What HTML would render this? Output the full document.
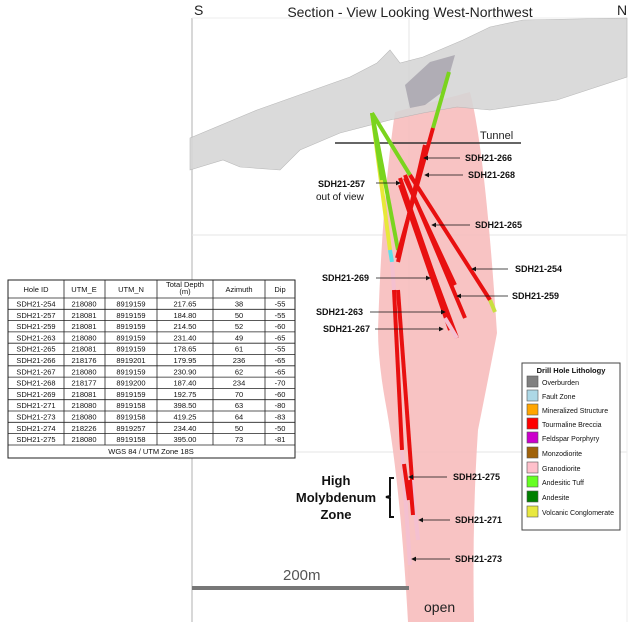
<!DOCTYPE html>
<html><head><meta charset="utf-8"><style>
body{margin:0;background:#fff;width:630px;height:622px;overflow:hidden;font-family:"Liberation Sans",sans-serif}
svg{display:block}
.l{font:bold 9px "Liberation Sans",sans-serif;fill:#111}
.t{font:7.5px "Liberation Sans",sans-serif;fill:#111}
.g{font:7px "Liberation Sans",sans-serif;fill:#111}
</style></head><body>
<svg width="630" height="622" viewBox="0 0 630 622" xmlns="http://www.w3.org/2000/svg">
<defs><marker id="a" markerWidth="6" markerHeight="6" refX="5" refY="3" orient="auto"><path d="M0,0 L6,3 L0,6z" fill="#111"/></marker></defs>
<line x1="192" y1="18" x2="192" y2="622" stroke="#ccc" stroke-width="1.5"/>
<line x1="409" y1="18" x2="409" y2="622" stroke="#e6e6e6"/>
<line x1="192" y1="235" x2="627" y2="235" stroke="#e6e6e6"/>
<line x1="192" y1="452" x2="627" y2="452" stroke="#e6e6e6"/>
<line x1="627" y1="18" x2="627" y2="622" stroke="#eee"/>
<line x1="192" y1="18" x2="627" y2="18" stroke="#eee"/>
<path d="M395,112 L470,92 Q485,150 497,333 Q490,370 478,430 Q472,520 474,622 L408,622 Q400,480 385,400 Q378,360 378,330 Q382,200 395,112z" fill="#f7b8b8" opacity="0.85"/>
<path d="M190,138 L257,110 L350,77 L377,63 L390,50 L400,63 L423,57 L463,40 L490,27 L523,20 L627,18 L627,77 L557,100 L490,110 L457,107 L423,113 L390,120 L340,133 L300,150 L280,170 L240,167 L223,160 L190,170z" fill="#d6d6d6" opacity="0.88" stroke="#b0b0b0" stroke-width="0.6"/>
<path d="M405,85 L430,62 L455,55 L445,90 L425,105 L410,108z" fill="#8e8898" opacity="0.55"/>
<line x1="335" y1="143" x2="521" y2="143" stroke="#333" stroke-width="1.5"/>
<text x="480" y="139" font-size="11" fill="#222">Tunnel</text>
<g stroke-width="4" stroke-linecap="butt">
<line x1="372" y1="113" x2="390" y2="250" stroke="#e8e83a"/>
<line x1="372" y1="113" x2="382" y2="180" stroke="#7ad41e"/>
<line x1="390" y1="250" x2="392" y2="262" stroke="#5ee0e8"/>
<line x1="392" y1="262" x2="394" y2="290" stroke="#f4c0d0"/>
<line x1="394" y1="290" x2="402" y2="450" stroke="#e81010"/>
<line x1="402" y1="450" x2="410" y2="565" stroke="#f4c0d0"/>
<line x1="398" y1="290" x2="412" y2="480" stroke="#e81010"/>
<line x1="412" y1="480" x2="418" y2="540" stroke="#f4c0d0"/>
<line x1="372" y1="113" x2="398" y2="250" stroke="#7ad41e"/>
<line x1="449" y1="72" x2="433" y2="128" stroke="#7ad41e"/>
<line x1="433" y1="128" x2="397" y2="258" stroke="#e81010"/>
<line x1="425" y1="145" x2="398" y2="262" stroke="#e81010"/>
<line x1="372" y1="113" x2="410" y2="175" stroke="#7ad41e"/>
<line x1="410" y1="175" x2="490" y2="300" stroke="#e81010"/>
<line x1="490" y1="300" x2="495" y2="312" stroke="#c8e040"/>
<line x1="405" y1="175" x2="465" y2="318" stroke="#e81010"/>
<line x1="405" y1="178" x2="455" y2="285" stroke="#e81010"/>
<line x1="400" y1="178" x2="445" y2="308" stroke="#e81010"/>
<line x1="400" y1="185" x2="450" y2="330" stroke="#e81010"/>
<line x1="402" y1="190" x2="457" y2="338" stroke="#e81010"/>
<line x1="445" y1="318" x2="457" y2="338" stroke="#f4c0d0"/>
<line x1="404" y1="464" x2="409" y2="500" stroke="#e81010"/>
<line x1="410" y1="480" x2="413" y2="515" stroke="#e81010"/>
</g>
<g stroke="#111" stroke-width="0.8" marker-end="url(#a)">
<line x1="460" y1="158" x2="424" y2="158"/><line x1="463" y1="175" x2="425" y2="175"/>
<line x1="376" y1="183" x2="400" y2="183"/><line x1="470" y1="225" x2="432" y2="225"/>
<line x1="508" y1="269" x2="472" y2="269"/><line x1="376" y1="278" x2="430" y2="278"/>
<line x1="508" y1="296" x2="457" y2="296"/><line x1="370" y1="312" x2="445" y2="312"/>
<line x1="375" y1="329" x2="443" y2="329"/><line x1="447" y1="477" x2="409" y2="477"/>
<line x1="450" y1="520" x2="419" y2="520"/><line x1="450" y1="559" x2="412" y2="559"/>
</g>
<text class="l" x="465" y="161">SDH21-266</text>
<text class="l" x="468" y="178">SDH21-268</text>
<text class="l" x="318" y="187">SDH21-257</text>
<text x="316" y="200" font-size="10" fill="#111">out of view</text>
<text class="l" x="475" y="228">SDH21-265</text>
<text class="l" x="515" y="272">SDH21-254</text>
<text class="l" x="322" y="281">SDH21-269</text>
<text class="l" x="512" y="299">SDH21-259</text>
<text class="l" x="316" y="315">SDH21-263</text>
<text class="l" x="323" y="332">SDH21-267</text>
<text class="l" x="453" y="480">SDH21-275</text>
<text class="l" x="455" y="523">SDH21-271</text>
<text class="l" x="455" y="562">SDH21-273</text>
<g font-weight="bold" font-size="13" text-anchor="middle" fill="#111">
<text x="336" y="485">High</text><text x="336" y="502">Molybdenum</text><text x="336" y="519">Zone</text></g>
<path d="M394,478 L390,478 L390,496 L386,497 L390,498 L390,517 L394,517" fill="none" stroke="#111" stroke-width="2"/>
<line x1="192" y1="588" x2="409" y2="588" stroke="#777" stroke-width="4"/>
<text x="283" y="580" font-size="15" fill="#555">200m</text>
<text x="424" y="612" font-size="14" fill="#222">open</text>
<text x="194" y="15" font-size="14" fill="#222">S</text>
<text x="410" y="17" font-size="14" fill="#222" text-anchor="middle">Section - View Looking West-Northwest</text>
<text x="617" y="15" font-size="14" fill="#222">N</text>
<g>
<rect x="8" y="280" width="287" height="178" fill="#fff" stroke="#222" stroke-width="1"/>
<g stroke="#222" stroke-width="0.8">
<line x1="8" y1="298" x2="295" y2="298"/>
<line x1="64" y1="280" x2="64" y2="445"/><line x1="105" y1="280" x2="105" y2="445"/><line x1="157" y1="280" x2="157" y2="445"/><line x1="213" y1="280" x2="213" y2="445"/><line x1="265" y1="280" x2="265" y2="445"/>
<line x1="8" y1="309.3" x2="295" y2="309.3"/><line x1="8" y1="320.6" x2="295" y2="320.6"/><line x1="8" y1="331.9" x2="295" y2="331.9"/><line x1="8" y1="343.2" x2="295" y2="343.2"/><line x1="8" y1="354.5" x2="295" y2="354.5"/><line x1="8" y1="365.8" x2="295" y2="365.8"/><line x1="8" y1="377.1" x2="295" y2="377.1"/><line x1="8" y1="388.4" x2="295" y2="388.4"/><line x1="8" y1="399.7" x2="295" y2="399.7"/><line x1="8" y1="411" x2="295" y2="411"/><line x1="8" y1="422.3" x2="295" y2="422.3"/><line x1="8" y1="433.6" x2="295" y2="433.6"/><line x1="8" y1="445" x2="295" y2="445"/>
</g>
<g class="t" text-anchor="middle">
<text x="36" y="292" class="t">Hole ID</text><text x="84" y="292" class="t">UTM_E</text><text x="131" y="292" class="t">UTM_N</text><text x="185" y="287" class="t">Total Depth</text><text x="185" y="294" class="t">(m)</text><text x="239" y="292" class="t">Azimuth</text><text x="280" y="292" class="t">Dip</text>
</g>
<g text-anchor="middle" font-size="7.5" fill="#111">
<text x="36" y="306.5">SDH21-254</text><text x="84" y="306.5">218080</text><text x="131" y="306.5">8919159</text><text x="185" y="306.5">217.65</text><text x="239" y="306.5">38</text><text x="280" y="306.5">-55</text>
<text x="36" y="317.8">SDH21-257</text><text x="84" y="317.8">218081</text><text x="131" y="317.8">8919159</text><text x="185" y="317.8">184.80</text><text x="239" y="317.8">50</text><text x="280" y="317.8">-55</text>
<text x="36" y="329.1">SDH21-259</text><text x="84" y="329.1">218081</text><text x="131" y="329.1">8919159</text><text x="185" y="329.1">214.50</text><text x="239" y="329.1">52</text><text x="280" y="329.1">-60</text>
<text x="36" y="340.4">SDH21-263</text><text x="84" y="340.4">218080</text><text x="131" y="340.4">8919159</text><text x="185" y="340.4">231.40</text><text x="239" y="340.4">49</text><text x="280" y="340.4">-65</text>
<text x="36" y="351.7">SDH21-265</text><text x="84" y="351.7">218081</text><text x="131" y="351.7">8919159</text><text x="185" y="351.7">178.65</text><text x="239" y="351.7">61</text><text x="280" y="351.7">-55</text>
<text x="36" y="363">SDH21-266</text><text x="84" y="363">218176</text><text x="131" y="363">8919201</text><text x="185" y="363">179.95</text><text x="239" y="363">236</text><text x="280" y="363">-65</text>
<text x="36" y="374.3">SDH21-267</text><text x="84" y="374.3">218080</text><text x="131" y="374.3">8919159</text><text x="185" y="374.3">230.90</text><text x="239" y="374.3">62</text><text x="280" y="374.3">-65</text>
<text x="36" y="385.6">SDH21-268</text><text x="84" y="385.6">218177</text><text x="131" y="385.6">8919200</text><text x="185" y="385.6">187.40</text><text x="239" y="385.6">234</text><text x="280" y="385.6">-70</text>
<text x="36" y="396.9">SDH21-269</text><text x="84" y="396.9">218081</text><text x="131" y="396.9">8919159</text><text x="185" y="396.9">192.75</text><text x="239" y="396.9">70</text><text x="280" y="396.9">-60</text>
<text x="36" y="408.2">SDH21-271</text><text x="84" y="408.2">218080</text><text x="131" y="408.2">8919158</text><text x="185" y="408.2">398.50</text><text x="239" y="408.2">63</text><text x="280" y="408.2">-80</text>
<text x="36" y="419.5">SDH21-273</text><text x="84" y="419.5">218080</text><text x="131" y="419.5">8919158</text><text x="185" y="419.5">419.25</text><text x="239" y="419.5">64</text><text x="280" y="419.5">-83</text>
<text x="36" y="430.8">SDH21-274</text><text x="84" y="430.8">218226</text><text x="131" y="430.8">8919257</text><text x="185" y="430.8">234.40</text><text x="239" y="430.8">50</text><text x="280" y="430.8">-50</text>
<text x="36" y="442.1">SDH21-275</text><text x="84" y="442.1">218080</text><text x="131" y="442.1">8919158</text><text x="185" y="442.1">395.00</text><text x="239" y="442.1">73</text><text x="280" y="442.1">-81</text>
<text x="151" y="454">WGS 84 / UTM Zone 18S</text>
</g>
</g>
<rect x="522" y="363" width="98" height="167" fill="#fff" stroke="#444" stroke-width="1"/>
<text x="571" y="373" font-size="7.5" font-weight="bold" text-anchor="middle" fill="#111">Drill Hole Lithology</text>
<g stroke="#555" stroke-width="0.6">
<rect x="527" y="376" width="11" height="11" fill="#808080"/>
<rect x="527" y="390" width="11" height="11" fill="#add8e6"/>
<rect x="527" y="404" width="11" height="11" fill="#ffa500"/>
<rect x="527" y="418" width="11" height="11" fill="#ff0000"/>
<rect x="527" y="432" width="11" height="11" fill="#cc00cc"/>
<rect x="527" y="447" width="11" height="11" fill="#a0620a"/>
<rect x="527" y="462" width="11" height="11" fill="#ffc0cb"/>
<rect x="527" y="476" width="11" height="11" fill="#66ff22"/>
<rect x="527" y="491" width="11" height="11" fill="#008000"/>
<rect x="527" y="506" width="11" height="11" fill="#e8e840"/>
</g>
<text class="g" x="542" y="385">Overburden</text>
<text class="g" x="542" y="399">Fault Zone</text>
<text class="g" x="542" y="413">Mineralized Structure</text>
<text class="g" x="542" y="427">Tourmaline Breccia</text>
<text class="g" x="542" y="441">Feldspar Porphyry</text>
<text class="g" x="542" y="456">Monzodiorite</text>
<text class="g" x="542" y="471">Granodiorite</text>
<text class="g" x="542" y="485">Andesitic Tuff</text>
<text class="g" x="542" y="500">Andesite</text>
<text class="g" x="542" y="515">Volcanic Conglomerate</text>
</svg>
</body></html>
